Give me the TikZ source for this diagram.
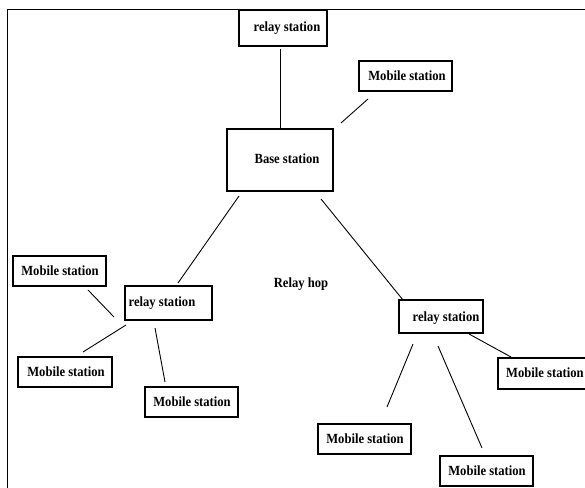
\documentclass[tikz,border=0pt]{standalone}
\usepackage{fontspec}
\setmainfont{Liberation Serif}
\newcommand\condtxt[1]{\scalebox{0.9}[1]{#1}}
\begin{document}
\begin{tikzpicture}[x=1pt,y=-1pt,
  boxst/.style={draw=black,line width=1.2pt},
  lbl/.style={font=\fontsize{14}{16}\selectfont\bfseries,inner sep=0pt,text=black},
  conn/.style={draw=black,line width=0.9pt},
  frame/.style={draw=black,line width=1pt}]
\useasboundingbox (0,0) rectangle (585,487);
\clip (0,0) rectangle (585,487);
\draw[frame] (600,10) -- (7.5,10) -- (7.5,500);
% boxes
\draw[boxst] (239,10) rectangle (327,46);
\draw[boxst] (359,61) rectangle (452,91);
\draw[boxst] (227,129) rectangle (333,191);
\draw[boxst] (13,256) rectangle (106,286);
\draw[boxst] (125,286) rectangle (212,320);
\draw[boxst] (18,357) rectangle (112,387);
\draw[boxst] (145,387) rectangle (238,417);
\draw[boxst] (399,300) rectangle (483,333);
\draw[boxst] (498,358) rectangle (600,389);
\draw[boxst] (318,424) rectangle (411,454);
\draw[boxst] (440,456) rectangle (533,486);
% labels
\node[lbl] (r0) at (287,28) {\condtxt{relay station}};
\node[lbl] (m0) at (407,76) {\condtxt{Mobile station}};
\node[lbl] (b) at (287,159) {\condtxt{Base station}};
\node[lbl] (m1) at (60,271) {\condtxt{Mobile station}};
\node[lbl] (r1) at (162,303) {\condtxt{relay station}};
\node[lbl] (m2) at (66,372) {\condtxt{Mobile station}};
\node[lbl] (m3) at (192,402) {\condtxt{Mobile station}};
\node[lbl] (r2) at (446,318) {\condtxt{relay station}};
\node[lbl,anchor=west] (m4) at (506,373) {\condtxt{Mobile station}};
\node[lbl] (m5) at (365,439) {\condtxt{Mobile station}};
\node[lbl] (m6) at (487,471) {\condtxt{Mobile station}};
\node[lbl] (hop) at (301,284) {\condtxt{Relay hop}};
% connector end points
\coordinate (a1) at (280,49);  \coordinate (a2) at (280,129);
\coordinate (b1) at (368,99);  \coordinate (b2) at (341,123);
\coordinate (c1) at (239,196); \coordinate (c2) at (178,283);
\coordinate (d1) at (321,199); \coordinate (d2) at (403,300);
\coordinate (e1) at (88,290);  \coordinate (e2) at (114,317);
\coordinate (f1) at (126,325); \coordinate (f2) at (83,352);
\coordinate (g1) at (155,328); \coordinate (g2) at (165,382);
\coordinate (h1) at (469,334); \coordinate (h2) at (511,357);
\coordinate (i1) at (413,344); \coordinate (i2) at (387,407);
\coordinate (j1) at (438,346); \coordinate (j2) at (482,448);
\draw[conn] (a1) -- (a2);
\draw[conn] (b1) -- (b2);
\draw[conn] (c1) -- (c2);
\draw[conn] (d1) -- (d2);
\draw[conn] (e1) -- (e2);
\draw[conn] (f1) -- (f2);
\draw[conn] (g1) -- (g2);
\draw[conn] (h1) -- (h2);
\draw[conn] (i1) -- (i2);
\draw[conn] (j1) -- (j2);
\end{tikzpicture}
\end{document}
